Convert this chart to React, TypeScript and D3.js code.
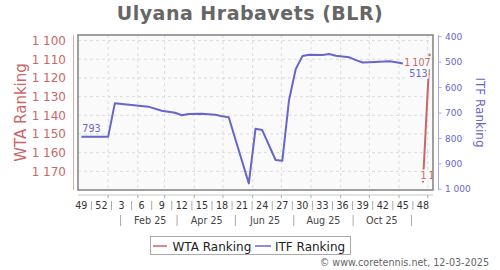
import React from "react";
import * as d3 from "d3";

const TITLE = "Ulyana Hrabavets (BLR)";
const ORIGIN = Date.UTC(2024, 11, 4);
// ITF series: [week index since 2024-12-04, ranking]
const itfWeeks = [0, 4, 5, 10, 12, 14, 15, 16, 18, 20, 21, 22, 25, 26, 27, 29, 30, 31, 32, 33, 34, 36, 37, 38, 40, 41, 42, 43, 46, 47, 48];
const itfValues = [793, 793, 662, 675, 691, 699, 709, 704, 703, 707, 713, 717, 977, 762, 767, 885, 888, 650, 528, 476, 471, 472, 468, 475, 481, 492, 501, 500, 496, 500, 505];
// WTA series
const wtaWeeks = [51, 52];
const wtaValues = [1176, 1107];
const itfFirstLabel = "793";
const itfLastLabel = "513";
const wtaFirstLabel = "1\u2009176";
const wtaLastLabel = "1\u2009107";

const leftTicks = [1100, 1110, 1120, 1130, 1140, 1150, 1160, 1170];
const leftTickLabels = ["1 100", "1 110", "1 120", "1 130", "1 140", "1 150", "1 160", "1 170"];
const rightTicks = [400, 500, 600, 700, 800, 900, 1000];
const rightTickLabels = ["400", "500", "600", "700", "800", "900", "1 000"];
const weekLabels = ["49", "52", "3", "6", "9", "12", "15", "18", "21", "24", "27", "30", "33", "36", "39", "42", "45", "48"];
const monthLabels = ["Feb 25", "Apr 25", "Jun 25", "Aug 25", "Oct 25"];
const monthLabelMonths = [1, 3, 5, 7, 9];
const monthSepMonths = [0, 2, 4, 6, 8, 10];

const RED = "#cc6666";
const BLUE = "#6666cc";
const FONT = "DejaVu Sans, sans-serif";

const wd = (w: number) => new Date(ORIGIN + w * 7 * 86400000);

export default function App() {
  const L = 78, R = 433, T = 35, B = 190;
  const x = d3.scaleTime().domain([new Date(ORIGIN - 3.5 * 86400000), new Date(ORIGIN + (52 * 7 + 3.5) * 86400000)]).range([L, R]);
  const yL = d3.scaleLinear().domain([1097, 1180]).range([T, B]);
  const yR = d3.scaleLinear().domain([393, 1003]).range([T, B]);

  const itf = itfWeeks.map((w, i) => [x(wd(w)), yR(itfValues[i])] as [number, number]);
  const wta = wtaWeeks.map((w, i) => [x(wd(w)), yL(wtaValues[i])] as [number, number]);
  const line = d3.line();

  const months = d3.utcMonth.range(new Date(Date.UTC(2025, 0, 1)), new Date(Date.UTC(2025, 11, 2)));
  const sepDates = monthSepMonths.map((m) => new Date(Date.UTC(2025, m, 14)));
  const labDates = monthLabelMonths.map((m) => new Date(Date.UTC(2025, m, 14)));

  const fsSmall = 9.6;
  const cw = (s: string, fs: number) => s.replace(/[ \u2009]/g, "").length * 0.636 * fs + (/[ \u2009]/.test(s) ? 0.2 * fs : 0);

  const lastW = wta[wta.length - 1];
  const firstW = wta[0];
  const lab1107 = { x: lastW[0] + 1, y: lastW[1] + 12.5 };
  const lab513 = { x: lastW[0] - 2, y: lastW[1] + 23 };
  const lab1176 = { x: firstW[0] - 2.5, y: firstW[1] - 4 };

  return (
    <svg width={500} height={270} style={{ position: "absolute", left: 0, top: 0, background: "#fff" }} fontFamily={FONT}>
      <defs>
        <clipPath id="plot">
          <rect x={L} y={T} width={R - L - 0.5} height={B - T} />
        </clipPath>
      </defs>
      <text x={250} y={19.5} textAnchor="middle" fontWeight="bold" fontSize={19} letterSpacing={0.5} fill="#666">{TITLE}</text>

      <rect x={L} y={T} width={R - L} height={B - T} fill="#fafafa" />
      {leftTicks.map((t) => (
        <line key={"h" + t} x1={L} x2={R} y1={yL(t)} y2={yL(t)} stroke="#dcdcdc" strokeDasharray="3,3" />
      ))}
      {months.map((m, i) => (
        <line key={"v" + i} x1={x(m)} x2={x(m)} y1={T} y2={B} stroke="#dcdcdc" strokeDasharray="3,3" />
      ))}

      <g clipPath="url(#plot)">
        <path d={line(itf) || ""} fill="none" stroke={BLUE} strokeWidth={2} strokeLinejoin="round" />
        <path d={line(wta) || ""} fill="none" stroke={RED} strokeWidth={2} />
        <text x={itf[0][0] + 1} y={itf[0][1] - 5} fontSize={fsSmall} fill={BLUE}>{itfFirstLabel}</text>
        <rect x={lab1107.x - cw(wtaLastLabel, fsSmall) - 1} y={lab1107.y - 10} width={cw(wtaLastLabel, fsSmall) + 2} height={13} fill="#fafafa" />
        <text x={lab1107.x} y={lab1107.y} fontSize={fsSmall} fill={RED} textAnchor="end">{wtaLastLabel}</text>
        <rect x={lab513.x - cw(itfLastLabel, fsSmall) - 1} y={lab513.y - 10} width={cw(itfLastLabel, fsSmall) + 2} height={12} fill="#fafafa" />
        <text x={lab513.x} y={lab513.y} fontSize={fsSmall} fill={BLUE} textAnchor="end">{itfLastLabel}</text>
        <rect x={lab1176.x + 0.5} y={lab1176.y - 9} width={cw(wtaFirstLabel, fsSmall) + 2} height={11.5} fill="#fafafa" />
        <text x={lab1176.x} y={lab1176.y} fontSize={fsSmall} fill={RED}>{wtaFirstLabel}</text>
      </g>
      <rect x={L} y={T} width={R - L} height={B - T} fill="none" stroke="#808080" strokeWidth={1.5} />

      {/* left axis */}
      <line x1={73.5} x2={73.5} y1={T} y2={B} stroke="#e3a8a8" />
      {leftTicks.map((t, i) => (
        <text key={"lt" + t} x={66} y={yL(t) + 4.3} textAnchor="end" fontSize={12} fill={RED}>{leftTickLabels[i]}</text>
      ))}
      <text transform={`translate(26,${(T + B) / 2}) rotate(-90)`} textAnchor="middle" fontSize={15} fill={RED}>WTA Ranking</text>

      {/* right axis */}
      <line x1={438.5} x2={438.5} y1={T} y2={B} stroke="#a8a8e3" />
      {rightTicks.map((t, i) => (
        <g key={"rt" + t}>
          <line x1={438.5} x2={441.5} y1={yR(t)} y2={yR(t)} stroke="#a8a8e3" />
          <text x={445} y={yR(t) + 3.2} fontSize={9} fill={BLUE}>{rightTickLabels[i]}</text>
        </g>
      ))}
      <text transform={`translate(476,${(T + B) / 2}) rotate(90)`} textAnchor="middle" fontSize={12} fill={BLUE}>ITF Ranking</text>

      {/* x axis */}
      <line x1={L} x2={R} y1={195} y2={195} stroke="#c8c8c8" />
      {months.map((m, i) => (
        <line key={"mt" + i} x1={x(m)} x2={x(m)} y1={195} y2={198} stroke="#aaa" />
      ))}
      {weekLabels.map((s, i) => (
        <text key={"wl" + i} x={x(wd(i * 3))} y={209} textAnchor="middle" fontSize={fsSmall} fill="#333">{s}</text>
      ))}
      {weekLabels.slice(1).map((s, i) => (
        <line key={"ws" + i} x1={x(wd(i * 3 + 1.5))} x2={x(wd(i * 3 + 1.5))} y1={201} y2={210} stroke="#aaa" />
      ))}
      {monthLabels.map((s, i) => (
        <text key={"ml" + i} x={x(labDates[i])} y={224} textAnchor="middle" fontSize={fsSmall} fill="#444">{s}</text>
      ))}
      {sepDates.map((d, i) => (
        <line key={"ms" + i} x1={x(d)} x2={x(d)} y1={215} y2={226} stroke="#aaa" />
      ))}

      {/* legend */}
      <rect x={150.5} y={236.5} width={200} height={18} fill="#fff" stroke="#aaa" />
      <line x1={153} x2={167} y1={246} y2={246} stroke={RED} strokeWidth={1.5} />
      <text x={172.5} y={250.5} fontSize={12} fill="#222">WTA Ranking</text>
      <line x1={255} x2={271} y1={246} y2={246} stroke={BLUE} strokeWidth={1.5} />
      <text x={275} y={250.5} fontSize={12} fill="#222">ITF Ranking</text>

      <text x={489} y={266} textAnchor="end" fontSize={fsSmall} fill="#666">© www.coretennis.net, 12-03-2025</text>
    </svg>
  );
}
